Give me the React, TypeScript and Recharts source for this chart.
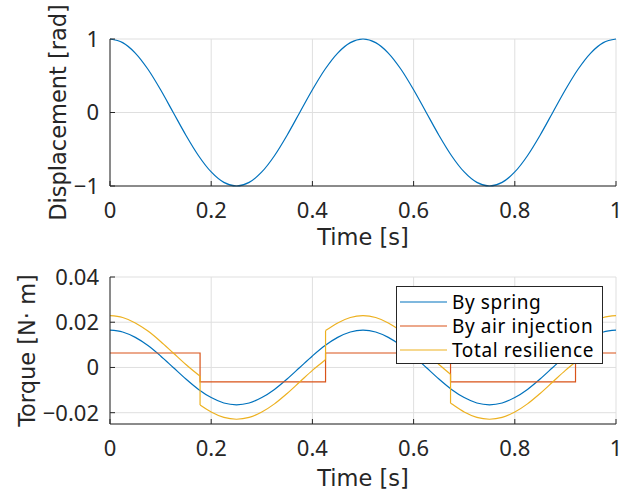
import React from "react";
import {
  LineChart,
  Line,
  XAxis,
  YAxis,
  CartesianGrid,
  Legend,
} from "recharts";

// sampled every 0.025 s
const time = [
  0, 0.025, 0.05, 0.075, 0.1, 0.125, 0.15, 0.175, 0.2, 0.225, 0.25, 0.275,
  0.3, 0.325, 0.35, 0.375, 0.4, 0.425, 0.45, 0.475, 0.5, 0.525, 0.55, 0.575,
  0.6, 0.625, 0.65, 0.675, 0.7, 0.725, 0.75, 0.775, 0.8, 0.825, 0.85, 0.875,
  0.9, 0.925, 0.95, 0.975, 1,
];
const displacement = [
  1, 0.951, 0.809, 0.588, 0.309, 0, -0.309, -0.588, -0.809, -0.951, -1,
  -0.951, -0.809, -0.588, -0.309, 0, 0.309, 0.588, 0.809, 0.951, 1, 0.951,
  0.809, 0.588, 0.309, 0, -0.309, -0.588, -0.809, -0.951, -1, -0.951, -0.809,
  -0.588, -0.309, 0, 0.309, 0.588, 0.809, 0.951, 1,
];
const springTorque = [
  0.0165, 0.0157, 0.0133, 0.0097, 0.0051, 0, -0.0051, -0.0097, -0.0133,
  -0.0157, -0.0165, -0.0157, -0.0133, -0.0097, -0.0051, 0, 0.0051, 0.0097,
  0.0133, 0.0157, 0.0165, 0.0157, 0.0133, 0.0097, 0.0051, 0, -0.0051, -0.0097,
  -0.0133, -0.0157, -0.0165, -0.0157, -0.0133, -0.0097, -0.0051, 0, 0.0051,
  0.0097, 0.0133, 0.0157, 0.0165,
];

// air injection switches sign (step after each time)
const airTime = [0, 0.178, 0.426, 0.673, 0.92, 1];
const airTorque = [0.0064, -0.0064, 0.0064, -0.0064, 0.0064, 0.0064];

// total, with the jump points listed twice
const totalTime = [
  0, 0.025, 0.05, 0.075, 0.1, 0.125, 0.15, 0.175, 0.178, 0.178, 0.2, 0.225,
  0.25, 0.275, 0.3, 0.325, 0.35, 0.375, 0.4, 0.425, 0.426, 0.426, 0.45, 0.475,
  0.5, 0.525, 0.55, 0.575, 0.6, 0.625, 0.65, 0.673, 0.673, 0.675, 0.7, 0.725,
  0.75, 0.775, 0.8, 0.825, 0.85, 0.875, 0.9, 0.92, 0.92, 0.925, 0.95, 0.975, 1,
];
const totalTorque = [
  0.0229, 0.0221, 0.0197, 0.0161, 0.0115, 0.0064, 0.0013, -0.0033, -0.0038,
  -0.0166, -0.0197, -0.0221, -0.0229, -0.0221, -0.0197, -0.0161, -0.0115,
  -0.0064, -0.0013, 0.0033, 0.0035, 0.0163, 0.0197, 0.0221, 0.0229, 0.0221,
  0.0197, 0.0161, 0.0115, 0.0064, 0.0013, -0.003, -0.0158, -0.0161, -0.0197,
  -0.0221, -0.0229, -0.0221, -0.0197, -0.0161, -0.0115, -0.0064, -0.0013,
  0.0024, 0.0152, 0.0161, 0.0197, 0.0221, 0.0229,
];

const timeTicks = [0, 0.2, 0.4, 0.6, 0.8, 1];
const dispTicks = [-1, 0, 1];
const torqueTicks = [-0.02, 0, 0.02, 0.04];

const seriesNames = ["By spring", "By air injection", "Total resilience"];
const seriesColors = ["#0072BD", "#D95319", "#EDB120"];

const FONT = '"Noto Sans", "Noto Sans CJK JP", sans-serif';
const LABEL_FONT = '"DejaVu Sans", "Noto Sans CJK JP", sans-serif';
const AXIS = "#262626";
const GRID = "#dfdfdf";

const dispData = time.map((t, i) => ({ t, v: displacement[i] }));
const springData = time.map((t, i) => ({ t, v: springTorque[i] }));
const airData = airTime.map((t, i) => ({ t, v: airTorque[i] }));

// split total where a time repeats; keep the vertical jump as its own piece
type Pt = { t: number; v: number };
const totalSegments: Pt[][] = [];
const totalJumps: Pt[][] = [];
totalTime.forEach((t, i) => {
  if (i > 0 && t === totalTime[i - 1]) {
    totalJumps.push([
      { t, v: totalTorque[i - 1] },
      { t, v: totalTorque[i] },
    ]);
  }
  if (i === 0 || t === totalTime[i - 1]) totalSegments.push([]);
  totalSegments[totalSegments.length - 1].push({ t, v: totalTorque[i] });
});

const fmt = (v: number) => (v < 0 ? "\u2212" + String(Math.abs(v)) : String(v));

const tickStyle = { fill: AXIS, fontSize: 22, fontFamily: FONT };

function XLabel(props: any) {
  const { viewBox, text, offset } = props;
  const { x, y, width, height } = viewBox;
  return (
    <text
      x={x + width / 2}
      y={y + height - offset}
      textAnchor="middle"
      fill={AXIS}
      fontSize={22.5}
      fontFamily={LABEL_FONT}
    >
      {text}
    </text>
  );
}

function YLabel(props: any) {
  const { viewBox, text, cx } = props;
  const { y, height } = viewBox;
  const cy = y + height / 2;
  return (
    <text
      x={cx}
      y={cy}
      transform={`rotate(-90 ${cx} ${cy})`}
      textAnchor="middle"
      dominantBaseline="central"
      fill={AXIS}
      fontSize={22.5}
      fontFamily={LABEL_FONT}
    >
      {text}
    </text>
  );
}

function LegendBox() {
  return (
    <div
      style={{
        border: `1px solid ${AXIS}`,
        background: "#fff",
        width: 205,
        height: 73,
        paddingTop: 3,
        fontFamily: FONT,
        fontSize: 19,
        color: "#000",
      }}
    >
      {seriesNames.map((name, i) => (
        <div
          key={name}
          style={{ display: "flex", alignItems: "center", height: 24 }}
        >
          <svg width={55} height={24} style={{ flex: "none" }}>
            <line
              x1={3}
              x2={50}
              y1={12}
              y2={12}
              stroke={seriesColors[i]}
              strokeWidth={1.2}
            />
          </svg>
          <span style={{ letterSpacing: 0.6, whiteSpace: "nowrap" }}>
            {name}
          </span>
        </div>
      ))}
    </div>
  );
}

export default function App() {
  return (
    <div
      style={{
        position: "absolute",
        left: 0,
        top: 0,
        width: 629,
        height: 491,
        background: "#fff",
      }}
    >
      <LineChart
        width={629}
        height={250}
        margin={{ top: 39, right: 13, bottom: 0, left: 0 }}
      >
        <CartesianGrid xAxisId="b" yAxisId="l" stroke={GRID} />
        <XAxis
          xAxisId="b"
          dataKey="t"
          type="number"
          domain={[0, 1]}
          ticks={timeTicks}
          interval={0}
          tickFormatter={fmt}
          height={64}
          tickSize={-5}
          tickMargin={21}
          stroke={AXIS}
          tick={tickStyle}
          label={<XLabel text="Time [s]" offset={6} />}
        />
        <XAxis
          xAxisId="t"
          orientation="top"
          type="number"
          domain={[0, 1]}
          ticks={timeTicks}
          interval={0}
          height={0}
          tickSize={-5}
          tick={false}
          stroke={AXIS}
        />
        <YAxis
          yAxisId="l"
          type="number"
          domain={[-1, 1]}
          ticks={dispTicks}
          interval={0}
          tickFormatter={fmt}
          width={110}
          tickSize={-5}
          tickMargin={16}
          stroke={AXIS}
          tick={tickStyle}
          label={<YLabel text="Displacement [rad]" cx={58} />}
        />
        <YAxis
          yAxisId="r"
          orientation="right"
          type="number"
          domain={[-1, 1]}
          ticks={dispTicks}
          interval={0}
          width={0}
          tickSize={-5}
          tick={false}
          stroke={AXIS}
        />
        <Line
          xAxisId="b"
          yAxisId="l"
          data={dispData}
          dataKey="v"
          type="monotone"
          stroke={seriesColors[0]}
          strokeWidth={1.2}
          dot={false}
          isAnimationActive={false}
        />
      </LineChart>
      <LineChart
        width={629}
        height={241}
        margin={{ top: 27, right: 13, bottom: 0, left: 0 }}
      >
        <CartesianGrid xAxisId="b" yAxisId="l" stroke={GRID} />
        <XAxis
          xAxisId="b"
          dataKey="t"
          type="number"
          domain={[0, 1]}
          ticks={timeTicks}
          interval={0}
          tickFormatter={fmt}
          height={67}
          tickSize={-5}
          tickMargin={21}
          stroke={AXIS}
          tick={tickStyle}
          label={<XLabel text="Time [s]" offset={8} />}
        />
        <XAxis
          xAxisId="t"
          orientation="top"
          type="number"
          domain={[0, 1]}
          ticks={timeTicks}
          interval={0}
          height={0}
          tickSize={-5}
          tick={false}
          stroke={AXIS}
        />
        <YAxis
          yAxisId="l"
          type="number"
          domain={[-0.025, 0.04]}
          ticks={torqueTicks}
          interval={0}
          tickFormatter={fmt}
          width={110}
          tickSize={-5}
          tickMargin={16}
          stroke={AXIS}
          tick={tickStyle}
          allowDataOverflow
          label={<YLabel text="Torque [N· m]" cx={27} />}
        />
        <YAxis
          yAxisId="r"
          orientation="right"
          type="number"
          domain={[-0.025, 0.04]}
          ticks={torqueTicks}
          interval={0}
          width={0}
          tickSize={-5}
          tick={false}
          stroke={AXIS}
          allowDataOverflow
        />
        <Line
          xAxisId="b"
          yAxisId="l"
          data={springData}
          dataKey="v"
          name={seriesNames[0]}
          type="monotone"
          stroke={seriesColors[0]}
          strokeWidth={1.2}
          dot={false}
          isAnimationActive={false}
        />
        <Line
          xAxisId="b"
          yAxisId="l"
          data={airData}
          dataKey="v"
          name={seriesNames[1]}
          type="stepAfter"
          stroke={seriesColors[1]}
          strokeWidth={1.2}
          dot={false}
          isAnimationActive={false}
        />
        {totalSegments.map((seg, i) => (
          <Line
            key={"s" + i}
            xAxisId="b"
            yAxisId="l"
            data={seg}
            dataKey="v"
            name={seriesNames[2]}
            type="monotone"
            stroke={seriesColors[2]}
            strokeWidth={1.2}
            dot={false}
            isAnimationActive={false}
          />
        ))}
        {totalJumps.map((seg, i) => (
          <Line
            key={"j" + i}
            xAxisId="b"
            yAxisId="l"
            data={seg}
            dataKey="v"
            name={seriesNames[2]}
            type="linear"
            stroke={seriesColors[2]}
            strokeWidth={1.2}
            dot={false}
            isAnimationActive={false}
          />
        ))}
        <Legend
          layout="vertical"
          align="center"
          verticalAlign="middle"
          content={() => <LegendBox />}
          wrapperStyle={{ left: 396, top: 36, width: 207, height: 78 }}
        />
      </LineChart>
    </div>
  );
}
